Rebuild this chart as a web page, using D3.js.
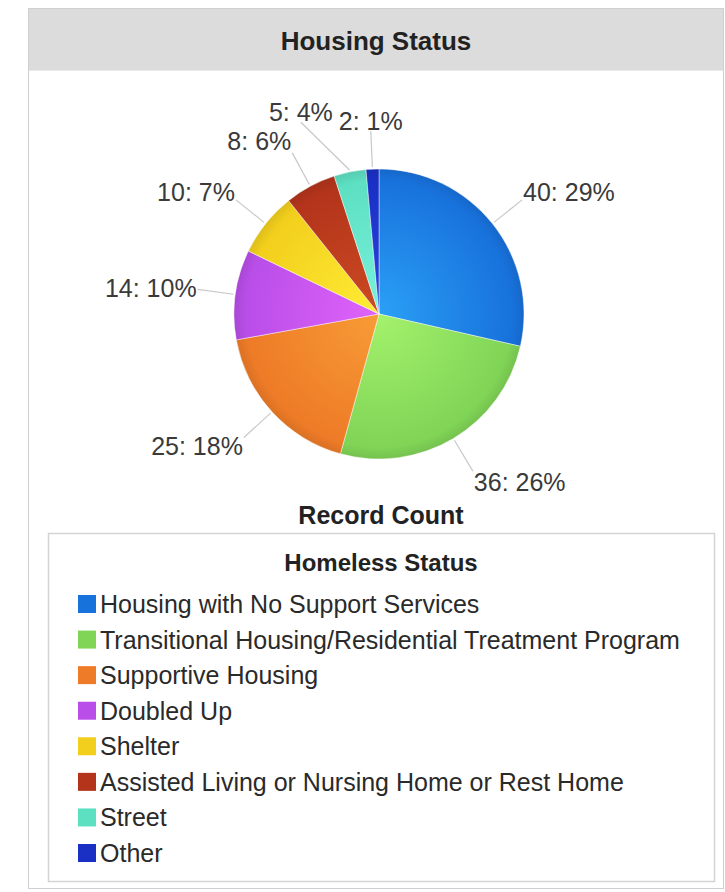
<!DOCTYPE html>
<html>
<head>
<meta charset="utf-8">
<script src="https://cdn.jsdelivr.net/npm/d3@7"></script>
<style>
  body { margin: 0; background: #fff; }
  svg text { font-family: "Liberation Sans", Arial, sans-serif; }
</style>
</head>
<body>
<svg id="chart" width="725" height="892"></svg>
<script>
var categories = [
  "Housing with No Support Services",
  "Transitional Housing/Residential Treatment Program",
  "Supportive Housing",
  "Doubled Up",
  "Shelter",
  "Assisted Living or Nursing Home or Rest Home",
  "Street",
  "Other"
];
var counts = [40, 36, 25, 14, 10, 8, 5, 2];
var baseColors = ["#1872dc", "#80d456", "#ee7b27", "#b94ee8", "#f2cf1c", "#b3341b", "#5ddfc2", "#1a30c4"];
var lightColors = ["#2aa0f6", "#a4f26c", "#f79c36", "#e063fa", "#ffec35", "#cc4a22", "#78f2dc", "#2646e2"];

var chartTitle = "Housing Status";
var axisTitle = "Record Count";
var legendTitle = "Homeless Status";

var svg = d3.select("#chart");
var total = d3.sum(counts);

// frame + header band
svg.append("rect")
    .attr("x", 28.5).attr("y", 8.5)
    .attr("width", 695).attr("height", 880)
    .attr("fill", "#fff")
    .attr("stroke", "#cfcfcf");
svg.append("rect")
    .attr("x", 29).attr("y", 9)
    .attr("width", 694).attr("height", 61)
    .attr("fill", "#dcdcdc");
svg.append("line")
    .attr("x1", 29).attr("x2", 723)
    .attr("y1", 70.5).attr("y2", 70.5)
    .attr("stroke", "#e8e8e8");
svg.append("text")
    .attr("x", 376).attr("y", 41)
    .attr("text-anchor", "middle")
    .attr("dominant-baseline", "central")
    .attr("font-size", 26).attr("font-weight", "bold")
    .attr("fill", "#222")
    .text(chartTitle);

////// pie //////
var cx = 379, cy = 314, R = 145, leaderR = 183;

var pie = d3.pie().sort(null).value(function(d) { return d; });
var arcs = pie(counts);
var arc = d3.arc().innerRadius(0).outerRadius(R);

// one radial gradient per slice, lighter toward the centre
var defs = svg.append("defs");
arcs.forEach(function(a, i) {
  var g = defs.append("radialGradient")
      .attr("id", "grad" + i)
      .attr("gradientUnits", "userSpaceOnUse")
      .attr("cx", 0).attr("cy", 0).attr("r", R);
  g.append("stop").attr("offset", "0%").attr("stop-color", lightColors[i]);
  g.append("stop").attr("offset", "92%").attr("stop-color", baseColors[i]);
  g.append("stop").attr("offset", "100%").attr("stop-color", d3.color(baseColors[i]).darker(0.25));
});

svg.append("g")
    .attr("transform", "translate(" + cx + "," + cy + ")")
    .selectAll("path")
    .data(arcs)
    .enter()
    .append("path")
    .attr("d", arc)
    .attr("fill", function(d, i) { return "url(#grad" + i + ")"; })
    .attr("stroke", "rgba(255,255,255,0.55)")
    .attr("stroke-width", 0.8);

////// labels //////
var labelInfo = arcs.map(function(a, i) {
  var ang = (a.startAngle + a.endAngle) / 2;
  var s = Math.sin(ang), c = Math.cos(ang);
  return {
    text: counts[i] + ": " + Math.round(counts[i] / total * 100) + "%",
    edge: [cx + (R + 2) * s, cy - (R + 2) * c],
    end: [cx + leaderR * s, cy - leaderR * c],
    top: Math.abs(s) < 0.3 && c > 0,
    s: s, c: c
  };
});

var labelG = svg.append("g");
labelInfo.forEach(function(L) {
  L.node = labelG.append("text")
      .attr("font-size", 25)
      .attr("fill", "#3a3a3a")
      .attr("dominant-baseline", "central")
      .text(L.text);
  L.w = L.node.node().getComputedTextLength();
  if (L.top) {
    L.x = L.end[0]; L.y = L.end[1] - 10; L.anchor = "middle";
  } else {
    L.anchor = L.s > 0 ? "start" : "end";
    L.x = L.end[0] + (L.s > 0 ? 1 : -1);
    L.y = L.end[1] - L.c * 13;
  }
});

// top labels: push left ones away from their right neighbour
var topLabels = labelInfo.filter(function(L) { return L.top; })
    .sort(function(a, b) { return b.x - a.x; });
for (var k = 1; k < topLabels.length; k++) {
  var prev = topLabels[k - 1], cur = topLabels[k];
  var overlap = (cur.x + cur.w / 2) - (prev.x - prev.w / 2) + 6;
  if (overlap > 0) {
    cur.x -= overlap; cur.end[0] -= overlap;
    cur.y -= overlap * 0.3; cur.end[1] -= overlap * 0.3;
  }
}

labelInfo.forEach(function(L) {
  L.node.attr("x", L.x).attr("y", L.y).attr("text-anchor", L.anchor);
  labelG.append("line")
      .attr("x1", L.edge[0]).attr("y1", L.edge[1])
      .attr("x2", L.end[0]).attr("y2", L.end[1])
      .attr("stroke", "#c8c8c8")
      .attr("stroke-width", 1.2);
});

svg.append("text")
    .attr("x", 381).attr("y", 515)
    .attr("text-anchor", "middle")
    .attr("dominant-baseline", "central")
    .attr("font-size", 25).attr("font-weight", "bold")
    .attr("fill", "#222")
    .text(axisTitle);

////// legend //////
svg.append("rect")
    .attr("x", 48.5).attr("y", 533.5)
    .attr("width", 666).attr("height", 348)
    .attr("fill", "#fff")
    .attr("stroke", "#d4d4d4")
    .attr("stroke-width", 1.5);
svg.append("text")
    .attr("x", 381).attr("y", 562)
    .attr("text-anchor", "middle")
    .attr("dominant-baseline", "central")
    .attr("font-size", 24).attr("font-weight", "bold")
    .attr("fill", "#222")
    .text(legendTitle);

var rowY = d3.scalePoint().domain(categories).range([604, 853]);
var legendRows = svg.append("g").selectAll("g")
    .data(categories)
    .enter()
    .append("g")
    .attr("transform", function(d) { return "translate(78," + rowY(d) + ")"; });
legendRows.append("rect")
    .attr("x", 0).attr("y", -9)
    .attr("width", 18).attr("height", 18)
    .attr("fill", function(d, i) { return baseColors[i]; });
legendRows.append("text")
    .attr("x", 22).attr("y", 0)
    .attr("dominant-baseline", "central")
    .attr("font-size", 25)
    .attr("fill", "#2a2a2a")
    .text(function(d) { return d; });
</script>
</body>
</html>
